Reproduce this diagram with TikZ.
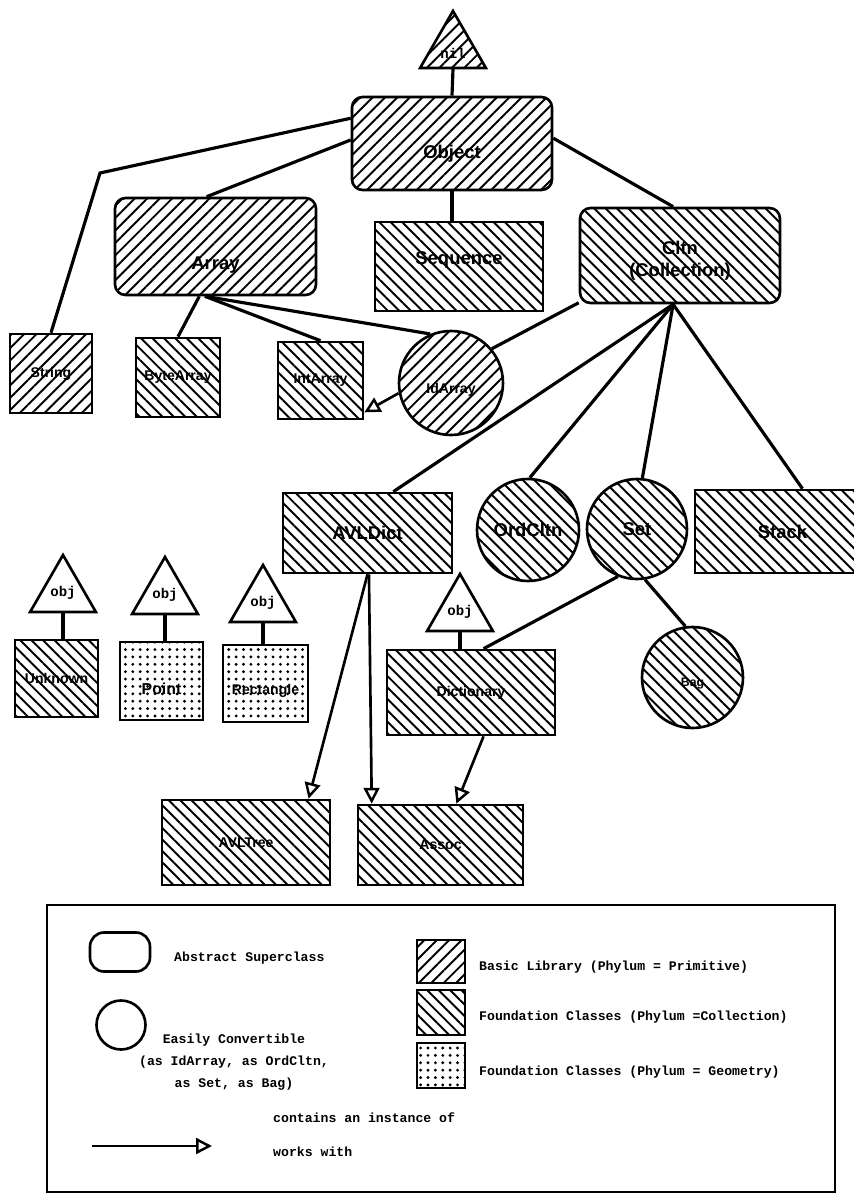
\documentclass[tikz,border=0pt]{standalone}
\usepackage{fontspec}
\setmainfont{Liberation Sans}
\setmonofont{Liberation Mono}
\usetikzlibrary{positioning,shapes.geometric,arrows.meta,patterns.meta}

\tikzset{
  cls/.style={draw, line width=1.5pt, inner sep=1pt, align=center},
  prim/.style={pattern={Lines[angle=45,distance=5pt,line width=1.1pt]}},
  coll/.style={pattern={Lines[angle=-45,distance=4.6pt,line width=1.1pt]}},
  geom/.style={pattern={Dots[distance=4.2pt,radius=0.9pt]}},
  abstr/.style={rectangle, rounded corners=6pt},
  conc/.style={rectangle},
  conv/.style={circle},
  tri/.style={regular polygon, regular polygon sides=3, minimum size=1.52cm,
    inner sep=0pt, draw, line width=1.5pt, font=\ttfamily\bfseries\fontsize{8}{9}\selectfont},
  link/.style={line width=1.8pt},
  works/.style={line width=1.5pt, -{Triangle[open,length=9pt,width=9pt,line width=1.4pt]}},
  bigf/.style={font=\bfseries\fontsize{10.5}{12.5}\selectfont},
  smallf/.style={font=\bfseries\fontsize{8}{9}\selectfont},
  legf/.style={font=\ttfamily\bfseries\fontsize{7.5}{12.5}\selectfont},
}

\begin{document}
\begin{tikzpicture}[x=0.02cm,y=-0.02cm]
  \useasboundingbox (0,0) rectangle (854,1203);

  \node[tri, prim, text height=11pt] (nil) at (453,49) {nil};
  \node[cls, abstr, prim, bigf, text height=19pt, minimum width=4cm, minimum height=1.86cm] (Object) at (452,143.5) {Object};
  \node[cls, abstr, prim, bigf, text height=28pt, minimum width=4.02cm, minimum height=1.94cm] (Array) at (215.5,246.5) {Array};
  \node[cls, conc, coll, bigf, text depth=9.5pt, minimum width=3.36cm, minimum height=1.78cm] (Sequence) at (459,266.5) {Sequence};
  \node[cls, abstr, coll, bigf, text height=26pt, minimum width=4cm, minimum height=1.9cm] (Cltn) at (680,255.5) {Cltn\\(Collection)};

  \node[cls, conc, prim, smallf, minimum width=1.64cm, minimum height=1.58cm] (String) at (51,373.5) {String};
  \node[cls, conc, coll, smallf, minimum width=1.68cm, minimum height=1.58cm] (ByteArray) at (178,377.5) {ByteArray};
  \node[cls, conc, coll, smallf, minimum width=1.7cm, minimum height=1.54cm] (IntArray) at (320.5,380.5) {IntArray};
  \node[cls, conv, prim, smallf, text height=14pt, minimum size=2.08cm] (IdArray) at (451,383) {IdArray};

  \node[cls, conc, coll, bigf, minimum width=3.38cm, minimum height=1.6cm] (AVLDict) at (367.5,533) {AVLDict};
  \node[cls, conv, coll, bigf, minimum size=2.04cm] (OrdCltn) at (528,530) {OrdCltn};
  \node[cls, conv, coll, bigf, minimum size=2cm] (Set) at (637,529) {Set};
  \node[cls, conc, coll, bigf, minimum width=3.5cm, minimum height=1.66cm] (Stack) at (782.5,531.5) {Stack};

  \node[tri] (objU) at (63,593) {obj};
  \node[tri] (objP) at (165,595) {obj};
  \node[tri] (objR) at (263,603) {obj};
  \node[tri] (objD) at (460,612) {obj};
  \node[cls, conc, coll, smallf, minimum width=1.66cm, minimum height=1.54cm] (Unknown) at (56.5,678.5) {Unknown};
  \node[cls, conc, geom, font=\bfseries\fontsize{9}{10}\selectfont, text height=16pt, minimum width=1.66cm, minimum height=1.56cm] (Point) at (161.5,681) {Point};
  \node[cls, conc, geom, smallf, text height=14pt, minimum width=1.7cm, minimum height=1.54cm] (Rectangle) at (265.5,683.5) {Rectangle};
  \node[cls, conc, coll, smallf, minimum width=3.36cm, minimum height=1.7cm] (Dictionary) at (471,692.5) {Dictionary};
  \node[cls, conv, coll, font=\bfseries\fontsize{7}{8}\selectfont, text height=12pt, minimum size=2.02cm] (Bag) at (692.5,677.5) {Bag};

  \node[cls, conc, coll, smallf, minimum width=3.36cm, minimum height=1.7cm] (AVLTree) at (246,842.5) {AVLTree};
  \node[cls, conc, coll, smallf, minimum width=3.3cm, minimum height=1.6cm] (Assoc) at (440.5,845) {Assoc};

  \coordinate (bendS) at (100,173);
  \draw[link] (nil.south) -- (Object.north);
  \draw[link] (Object.166) -- (bendS) -- (String.north);
  \draw[link] (Object.178) -- (Array.100);
  \draw[link] (Object.south) -- (Object.south |- Sequence.north);
  \draw[link] (Object.3) -- (Cltn.98);
  \draw[link] (Array.252) -- (ByteArray.north);
  \draw[link] (Array.258) -- (IntArray.north);
  \draw[link] (Array.258) -- (IdArray.113);
  \draw[link] (Cltn.205) -- (IdArray.40);
  \draw[link] (Cltn.262) -- (AVLDict.58);
  \draw[link] (Cltn.262) -- (OrdCltn.88);
  \draw[link] (Cltn.262) -- (Set.84);
  \draw[link] (Cltn.262) -- (Stack.65);
  \draw[link] (Set.248) -- (Dictionary.74);
  \draw[link] (Set.279) -- (Bag.98);
  \draw[link] (objU.south) -- (objU.south |- Unknown.north);
  \draw[link] (objP.south) -- (objP.south |- Point.north);
  \draw[link] (objR.south) -- (objR.south |- Rectangle.north);
  \draw[link] (objD.south) -- (objD.south |- Dictionary.north);

  \draw[works] (IdArray.191) -- (IntArray.-36);
  \draw[works] (AVLDict.south) -- (AVLTree.35);
  \draw[works] (AVLDict.-88) -- (Assoc.149);
  \draw[works] (Dictionary.286) -- (Assoc.69);

  % legend
  \draw[line width=1.5pt] (47,905) rectangle (835,1192);
  \node[cls, rectangle, rounded corners=8pt, minimum width=1.2cm, minimum height=0.78cm] (legAbs) at (120,952) {};
  \node[legf, anchor=west] (legAbsT) at (168,958) {Abstract Superclass};
  \node[cls, conv, minimum size=0.98cm] (legConv) at (121,1025) {};
  \node[legf, align=center] (legConvT) at (234,1062) {Easily Convertible\\(as IdArray, as OrdCltn,\\as Set, as Bag)};
  \node[cls, conc, prim, minimum width=0.96cm, minimum height=0.86cm] (legPrim) at (441,961.5) {};
  \node[legf, anchor=west] (legPrimT) at (473,967) {Basic Library (Phylum = Primitive)};
  \node[cls, conc, coll, minimum width=0.96cm, minimum height=0.9cm] (legColl) at (441,1012.5) {};
  \node[legf, anchor=west] (legCollT) at (473,1017) {Foundation Classes (Phylum =Collection)};
  \node[cls, conc, geom, minimum width=0.96cm, minimum height=0.9cm] (legGeom) at (441,1065.5) {};
  \node[legf, anchor=west] (legGeomT) at (473,1072) {Foundation Classes (Phylum = Geometry)};
  \coordinate (legA) at (92,1146);
  \coordinate (legB) at (212,1146);
  \draw[works] (legA) -- (legB);
  \node[legf, anchor=west] (legCont) at (267,1118) {contains an instance of};
  \node[legf, anchor=west] (legWork) at (267,1152) {works with};
\end{tikzpicture}
\end{document}
